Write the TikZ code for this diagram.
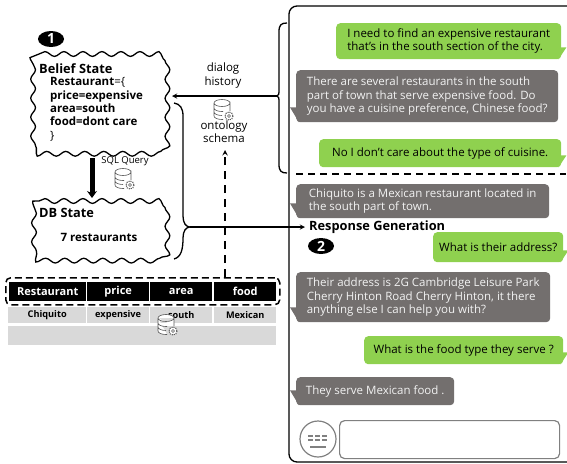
\documentclass[tikz,border=0pt]{standalone}
\usepackage{fontspec}
\setmainfont{Open Sans}
\usetikzlibrary{
		arrows.meta,
		calc,
		positioning,
		shapes.geometric,
		decorations.pathmorphing
	}
\definecolor{bubgreen}{HTML}{8FD14F}
\definecolor{bubgrey}{HTML}{736F6E}
\definecolor{cellgrey}{HTML}{D9D9D9}
\definecolor{icongrey}{HTML}{595959}
\tikzset{
		>=stealth,
		txt/.style={font=\fontsize{11.5}{13.3}\selectfont,inner sep=0pt,align=left},
		boldtxt/.style={txt,font=\fontsize{11.5}{13.3}\selectfont\bfseries},
		titletxt/.style={txt,font=\fontsize{12.8}{14}\selectfont\bfseries,anchor=west},
		greenbub/.style={txt,fill=bubgreen,text=black,rounded corners=4pt,anchor=north west},
		greybub/.style={txt,fill=bubgrey,text=white!95!black,rounded corners=4pt,anchor=north west},
		cloud line/.style={line width=1.3pt,decorate,
			decoration={snake,segment length=19pt,amplitude=2.4pt}},
		badge/.style={ellipse,fill=black,text=white,inner sep=0pt,minimum width=26pt,minimum height=16pt,
			font=\fontsize{14}{14}\selectfont\bfseries},
		headcell/.style={fill=black,text=white,inner sep=0pt,minimum height=19pt,anchor=north west,
			font=\fontsize{11}{12}\selectfont\bfseries},
		bodycell/.style={fill=cellgrey,inner sep=0pt,minimum height=16pt,anchor=north west},
		dbicon/.pic={
			\draw[icongrey,line width=0.6pt,fill=white] (-8,-7) arc (180:360:8 and -3.5) -- (8,1)
				(-8,-7) arc (180:0:8 and -3.5)
				(-8,-7) -- (-8,6) arc (180:270:8 and -3.5) -- (1,9.5)
				(-8,-2) arc (180:270:8 and -3.5) -- (1,1.5)
				(-8,2) arc (180:270:8 and -3.5);
			\draw[icongrey,line width=1.1pt,densely dotted,fill=white] (7,6) circle [radius=4];
			\draw[icongrey,line width=0.5pt] (7,6) circle [radius=1.5];
		}
	}
% wavy outline round a node
\newcommand{\cloudline}[1]{
	\draw[cloud line] ($(#1.north west)+(9,0)$) -- ($(#1.north east)+(-9,0)$) arc (-90:0:9)
		-- ($(#1.south east)+(0,-9)$) arc (0:90:9)
		-- ($(#1.south west)+(9,0)$) arc (90:180:9)
		-- ($(#1.north west)+(0,9)$) arc (180:270:9);
}

\begin{document}
\begin{tikzpicture}[x=1pt,y=-1pt]
\useasboundingbox (0,0) rectangle (567,463);

% left side
\node[badge] (one) at (51,39) {1};
\node[inner sep=0pt,minimum width=133pt,minimum height=98pt,anchor=north west] (belief) at (30,54) {};
\cloudline{belief}
\node[titletxt] (belieftitle) at (39,69) {Belief State};
\node[boldtxt,anchor=north west] (beliefbody) at (50,77.5) {Restaurant\textmd{=\{}\\price=expensive\\area=south\\food=dont care\\\textmd{\}}};
\node[inner sep=0pt,minimum width=133pt,minimum height=58pt,anchor=north west] (db) at (30,201) {};
\cloudline{db}
\node[titletxt] (dbtitle) at (39,213) {DB State};
\node[boldtxt] (dbcount) at (99,237) {7 restaurants};

\node[txt,font=\fontsize{9.5}{10}\selectfont] (sql) at (125,161.5) {SQL Query};
\pic at (123,179) {dbicon};
\coordinate (sqlfrom) at (92,158);
\coordinate (sqlto) at (92,198);
\draw[line width=5pt,-{Stealth[length=7pt,width=10pt]}] (sqlfrom) -- (sqlto);

\node[txt,align=center] (history) at (223,75.5) {dialog\\history};
\pic at (222,110) {dbicon};
\node[txt,align=center] (onto) at (224,131.5) {ontology\\schema};

% table
\foreach \name/\xa/\cellw/\lab in {a/9/77/Restaurant,b/87/62/price,c/150/62/area,d/214/62/food}
	\node[headcell,minimum width=\cellw pt] (head\name) at (\xa,282) {\lab};
\foreach \name/\xa/\cellw/\lab in {a/8/78/Chiquito,b/87/62/expensive,c/150/62/south,d/214/62/Mexican}
	\node[bodycell,minimum width=\cellw pt,font=\fontsize{9.2}{10}\selectfont\bfseries] (cell\name) at (\xa,307) {\lab};
\node[bodycell,minimum width=268pt,minimum height=19pt] (lastrow) at (8,326) {};
\pic at (166,325) {dbicon};
\node[draw,line width=1.5pt,dash pattern=on 7pt off 4pt,rounded corners=5pt,minimum width=274pt,minimum height=27pt,anchor=north west] (schema) at (5,277) {};

\coordinate (schemaup) at (225,277);
\coordinate (ontoin) at (225,150);
\draw[line width=1.4pt,dash pattern=on 8pt off 6pt,->] (schemaup) -- (ontoin);

% chat frame
\draw[line width=1.3pt,rounded corners=8pt] (575,6) -- (289,6) -- (289,462) -- (575,462);
\draw[line width=1.3pt,dash pattern=on 7pt off 5pt] (296,174) -- (566,174);

\node[greenbub,minimum width=225pt,minimum height=36pt] (user1) at (336,23) {I need to find an expensive restaurant\\that's in the south section of the city.};
\node[greybub,minimum width=262pt,minimum height=52pt] (sys1) at (296,70) {There are several restaurants in the south\\part of town that serve expensive food. Do\\you have a cuisine preference, Chinese food?};
\node[greenbub,minimum width=242pt,minimum height=28pt] (user2) at (319,139) {No I don't care about the type of cuisine.};
\node[greybub,minimum width=253pt,minimum height=34pt] (sys2) at (296,184) {Chiquito is a Mexican restaurant located in\\the south part of town.};
\node[greenbub,minimum width=130pt,minimum height=30pt] (user3) at (433,232) {What is their address?};
\node[greybub,minimum width=254pt,minimum height=50pt] (sys3) at (296,272) {Their address is 2G Cambridge Leisure Park\\Cherry Hinton Road Cherry Hinton, it there\\anything else I can help you with?};
\node[greenbub,minimum width=199pt,minimum height=28pt] (user4) at (364,336) {What is the food type they serve ?};
\node[greybub,minimum width=158pt,minimum height=28pt] (sys4) at (296,377) {They serve Mexican food .};

% bubble tails
\foreach \bub in {user1,user2,user3,user4}
	\fill[bubgreen] ($(\bub.south east)+(-3,0)$) -- ($(\bub.south east)+(5,-12)$) -- ($(\bub.south east)+(-1,-12)$) -- cycle;
\foreach \bub in {sys1,sys2,sys3,sys4}
	\fill[bubgrey] ($(\bub.south west)+(3,0)$) -- ($(\bub.south west)+(-6,-15)$) -- ($(\bub.south west)+(1,-15)$) -- cycle;

\node[titletxt] (response) at (309,227) {Response Generation};
\node[badge] (two) at (321,246) {2};

% input bar
\node[draw=gray,line width=1.2pt,circle,minimum size=36pt,inner sep=0pt] (keys) at (318,439) {};
\draw[gray,line width=1.2pt,dash pattern=on 5pt off 2pt] ($(keys.center)+(-10,-3)$) -- ($(keys.center)+(10,-3)$);
\draw[gray,line width=1.2pt,dash pattern=on 5pt off 2pt] ($(keys.center)+(-10,1)$) -- ($(keys.center)+(10,1)$);
\draw[gray,line width=1.2pt] ($(keys.center)+(-8,8)$) -- ($(keys.center)+(8,8)$);
\node[draw=gray,line width=1.2pt,rounded corners=5pt,minimum width=220pt,minimum height=38pt,anchor=north west] (input) at (339,420) {};

% braces
\coordinate (histtip) at (277,96);
\coordinate (histin) at (172,96);
\draw[line width=1.3pt] (287,23) .. controls (281,23) and (279,25) .. (279,32) -- (279,88) .. controls (279,94) and (279,96) .. (histtip)
	.. controls (279,96) and (279,98) .. (279,104) -- (279,164) .. controls (279,171) and (281,173) .. (287,173);
\draw[line width=1.3pt,->] (histtip) -- (histin);
\coordinate (resptip) at (190,227);
\coordinate (respin) at (305,227);
\draw[line width=1.3pt] (174,103) .. controls (180,104) and (183,108) .. (183,116) -- (183,216) .. controls (183,223) and (186,227) .. (resptip)
	.. controls (186,227) and (183,231) .. (183,238) .. controls (183,250) and (181,257) .. (174,259);
\draw[line width=1.3pt,->] (resptip) -- (respin);
\end{tikzpicture}
\end{document}
